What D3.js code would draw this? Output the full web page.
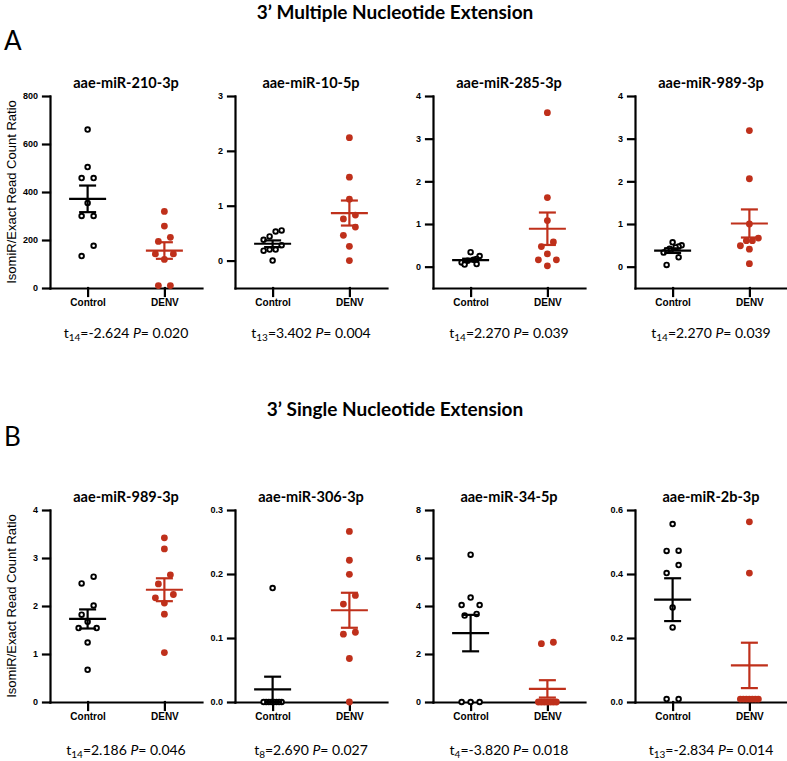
<!DOCTYPE html>
<html><head><meta charset="utf-8">
<script src="https://cdn.jsdelivr.net/npm/d3@7"></script>
<style>body{margin:0;background:#fff}</style>
</head><body>
<script>
// ---------- DATA ----------
const groups = ["Control", "DENV"];
const sectionTitles = ["3\u2019 Multiple Nucleotide Extension", "3\u2019 Single Nucleotide Extension"];
const sectionLetters = ["A", "B"];
const panelTitles = ["aae-miR-210-3p", "aae-miR-10-5p", "aae-miR-285-3p", "aae-miR-989-3p",
                     "aae-miR-989-3p", "aae-miR-306-3p", "aae-miR-34-5p", "aae-miR-2b-3p"];
const yLabel = "IsomiR/Exact Read Count Ratio";

const controlValues = [
  [660, 504, 458, 458, 354, 300, 300, 176, 133],
  [0.55, 0.53, 0.44, 0.38, 0.28, 0.20, 0.20, 0.18, 0.0],
  [0.34, 0.25, 0.18, 0.16, 0.14, 0.12, 0.10, 0.06, 0.05],
  [0.57, 0.50, 0.47, 0.45, 0.42, 0.38, 0.33, 0.22, 0.04],
  [2.61, 2.47, 2.01, 1.82, 1.67, 1.54, 1.54, 1.24, 0.67],
  [0.178, 0, 0, 0, 0, 0, 0, 0, 0],
  [6.14, 4.35, 4.04, 4.04, 3.67, 3.60, 0, 0, 0],
  [0.556, 0.472, 0.473, 0.428, 0.403, 0.295, 0.233, 0.009, 0.009]
];
const denvValues = [
  [319, 258, 211, 194, 142, 142, 119, 10, 10],
  [2.24, 1.52, 1.12, 0.83, 0.76, 0.61, 0.46, 0.26, 0.0],
  [3.61, 1.62, 1.08, 0.58, 0.47, 0.30, 0.16, 0.16, 0.02],
  [3.19, 2.06, 1.00, 0.67, 0.61, 0.61, 0.49, 0.41, 0.07],
  [3.42, 3.19, 2.65, 2.46, 2.24, 2.17, 2.06, 1.83, 1.03],
  [0.2665, 0.2215, 0.1995, 0.1665, 0.153, 0.109, 0.106, 0.068, 0.0],
  [2.49, 2.43, 0, 0, 0, 0, 0, 0, 0],
  [0.563, 0.403, 0.009, 0.009, 0.009, 0.009, 0.009, 0.009, 0.009]
];
const yDomains = [[0, 800], [-0.5, 3], [-0.5, 4], [-0.5, 4], [0, 4], [0, 0.3], [0, 8], [0, 0.6]];
const yTicks = [[0, 200, 400, 600, 800], [0, 1, 2, 3], [0, 1, 2, 3, 4], [0, 1, 2, 3, 4],
                [0, 1, 2, 3, 4], [0, 0.1, 0.2, 0.3], [0, 2, 4, 6, 8], [0, 0.2, 0.4, 0.6]];
const tickFormats = ["d", "d", "d", "d", "d", ".1f", "d", ".1f"];
const statDf = ["14", "13", "14", "14", "14", "8", "4", "13"];
const statT = ["-2.624", "3.402", "2.270", "2.270", "2.186", "2.690", "-3.820", "-2.834"];
const statP = ["0.020", "0.004", "0.039", "0.039", "0.046", "0.027", "0.018", "0.014"];

// ---------- LAYOUT ----------
const W = 787, H = 761;
const red = "#BF301B";
const colX = [50, 235, 433, 635];
const axisW = 152;
const rowTop = [96, 510];
const plotH = 192;
const sectionY = [19, 416];
const letterY = [50, 446];
const titleY = [87.5, 502];
const statY = [338, 755];
const axisFont = "'Liberation Sans', Arial, sans-serif";
const textFont = "Lato, 'Open Sans', sans-serif";

const svg = d3.select("body").append("svg").attr("width", W).attr("height", H);
svg.append("rect").attr("width", W).attr("height", H).attr("fill", "#fff");

sectionTitles.forEach((t, r) => {
  svg.append("text").attr("x", 395).attr("y", sectionY[r]).attr("text-anchor", "middle")
    .attr("font-family", textFont).attr("font-weight", 700).attr("font-size", 19).text(t);
  svg.append("text").attr("x", 4).attr("y", letterY[r])
    .attr("font-family", textFont).attr("font-size", 26).text(sectionLetters[r]);
});

function swarm(values, y, cx) {
  const pts = values.map(v => ({ v, py: y(v) })).sort((a, b) => a.py - b.py);
  const rows = []; let cur = null;
  pts.forEach(p => {
    if (cur && p.py - cur[0].py < 10.5) cur.push(p); else { cur = [p]; rows.push(cur); }
  });
  rows.forEach(r => {
    const n = r.length;
    if (n === 1) { r[0].px = cx; return; }
    const s = Math.min(12, 18 / (n - 1));
    const pos = d3.range(n).map(k => (k - (n - 1) / 2) * s);
    let order = r.slice();
    if (n % 2 === 1) {
      const m = d3.mean(r, d => d.py);
      const far = d3.greatestIndex(r, d => Math.abs(d.py - m));
      const c = order.splice(far, 1)[0];
      c.px = cx;
      const rest = pos.filter((p, k) => k !== (n - 1) / 2).reverse();
      order.forEach((d, k) => d.px = cx + rest[k]);
    } else {
      const rest = pos.slice().reverse();
      order.forEach((d, k) => d.px = cx + rest[k]);
    }
  });
  return pts;
}

panelTitles.forEach((title, i) => {
  const row = Math.floor(i / 4), col = i % 4;
  const x0 = colX[col], x1 = x0 + axisW;
  const yTop = rowTop[row], yBot = yTop + plotH;
  const y = d3.scaleLinear().domain(yDomains[i]).range([yBot, yTop]);
  const x = d3.scalePoint().domain(groups).range([x0, x1]).padding(0.49);
  const g = svg.append("g");
  const cxMid = (x(groups[0]) + x(groups[1])) / 2;

  const yAxis = d3.axisLeft(y).tickValues(yTicks[i]).tickFormat(d3.format(tickFormats[i]))
    .tickSize(7).tickSizeOuter(0).tickPadding(5);
  const ya = g.append("g").attr("transform", `translate(${x0},0)`).call(yAxis);
  const xAxis = d3.axisBottom(x).tickSize(8).tickSizeOuter(0).tickPadding(3);
  const xa = g.append("g").attr("transform", `translate(0,${yBot})`).call(xAxis);
  [ya, xa].forEach(a => {
    a.selectAll("path, line").attr("stroke", "#000").attr("stroke-width", 2.2).attr("stroke-linecap", "square");
    a.selectAll("text").attr("font-family", axisFont).attr("font-weight", 700).attr("fill", "#000");
  });
  ya.selectAll("text").attr("font-size", 9);
  xa.selectAll("text").attr("font-size", 10);

  // points
  const sets = [controlValues[i], denvValues[i]];
  sets.forEach((vals, gi) => {
    const cx = x(groups[gi]);
    const pts = swarm(vals, y, cx);
    const color = gi === 0 ? "#000" : red;
    g.selectAll(null).data(pts).join("circle")
      .attr("cx", d => d.px).attr("cy", d => d.py)
      .attr("r", gi === 0 ? 2.3 : 3.4)
      .attr("fill", gi === 0 ? "#fff" : red)
      .attr("stroke", gi === 0 ? "#000" : "none")
      .attr("stroke-width", 1.9);
    const m = d3.mean(vals), sem = d3.deviation(vals) / Math.sqrt(vals.length);
    const eb = g.append("g").attr("stroke", color).attr("stroke-width", 2.2).attr("fill", "none");
    eb.append("line").attr("x1", cx - 18.5).attr("x2", cx + 18.5).attr("y1", y(m)).attr("y2", y(m));
    eb.append("line").attr("x1", cx).attr("x2", cx).attr("y1", y(m - sem)).attr("y2", y(m + sem));
    [m - sem, m + sem].forEach(v => eb.append("line").attr("x1", cx - 8.5).attr("x2", cx + 8.5).attr("y1", y(v)).attr("y2", y(v)));
  });

  // title
  g.append("text").attr("x", cxMid).attr("y", titleY[row]).attr("text-anchor", "middle")
    .attr("font-family", textFont).attr("font-weight", 700).attr("font-size", 14.5).text(title);

  // stats
  const st = g.append("text").attr("x", cxMid).attr("y", statY[row]).attr("text-anchor", "middle")
    .attr("font-family", textFont).attr("font-size", 14);
  st.append("tspan").text("t");
  st.append("tspan").attr("font-size", 10).attr("dy", 3).text(statDf[i]);
  st.append("tspan").attr("dy", -3).text("=" + statT[i] + " ");
  st.append("tspan").attr("font-style", "italic").text("P");
  st.append("tspan").text("= " + statP[i]);

  if (col === 0) {
    g.append("text").attr("transform", `translate(16,${(yTop + yBot) / 2}) rotate(-90)`)
      .attr("text-anchor", "middle").attr("font-family", axisFont).attr("font-size", 13).text(yLabel);
  }
});
</script>
</body></html>
